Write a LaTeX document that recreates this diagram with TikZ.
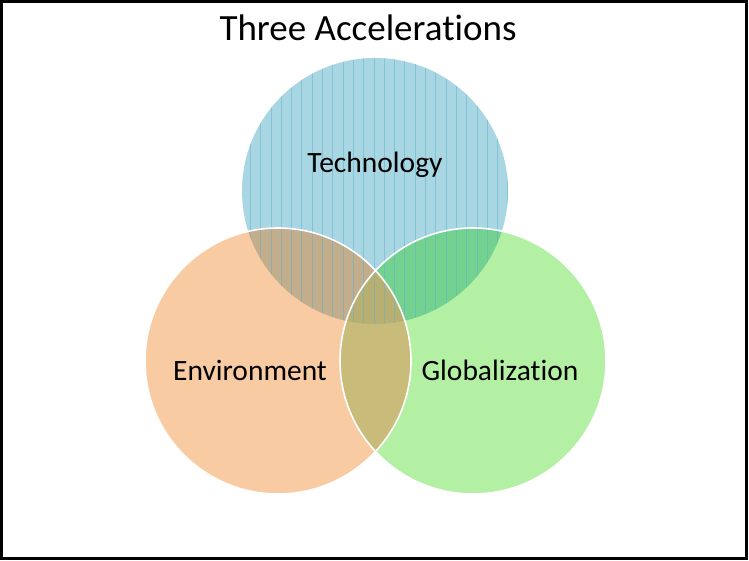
\documentclass[tikz,border=0pt]{standalone}
\usepackage{fontspec}
\setmainfont{Carlito}[Ligatures={NoCommon}]
\begin{document}
\begin{tikzpicture}[x=1pt,y=-1pt,
  label/.style={font=\fontsize{29.5}{32}\selectfont, text=black, inner sep=0pt},
  edge/.style={draw=white, line width=1.6pt}]
\definecolor{techC}{HTML}{A9D6E3}
\definecolor{envC}{HTML}{F9CBA3}
\definecolor{globC}{HTML}{B3F0A3}
\definecolor{teC}{HTML}{C2AD8D}
\definecolor{tgC}{HTML}{74D290}
\definecolor{egC}{HTML}{C9BB7A}
\definecolor{allC}{HTML}{B8B072}
\definecolor{stripeC}{HTML}{5FB2CB}
\useasboundingbox (0,0) rectangle (749,561);
\fill[white] (0,0) rectangle (749,561);
% circle centres and radius
\def\rr{133}
\coordinate (T) at (375,191);
\coordinate (E) at (278,361);
\coordinate (G) at (473,361);
% single regions
\fill[techC] (T) circle (\rr);
\fill[globC] (G) circle (\rr);
\fill[envC] (E) circle (\rr);
% pairwise overlaps
\begin{scope}
  \clip (T) circle (\rr);
  \fill[teC] (E) circle (\rr);
  \fill[tgC] (G) circle (\rr);
\end{scope}
\begin{scope}
  \clip (E) circle (\rr);
  \fill[egC] (G) circle (\rr);
  \clip (G) circle (\rr);
  \fill[allC] (T) circle (\rr);
\end{scope}
% vertical stripes of the technology circle
\begin{scope}
  \clip (T) circle (\rr);
  \foreach \x in {0,...,27} {
    \draw[stripeC, line width=0.8pt, opacity=0.5] (240+10.3*\x,50) -- (240+10.3*\x,340);
  }
\end{scope}
% white outlines
\draw[edge] (G) circle (\rr);
\draw[edge] (E) circle (\rr);
% labels
\node[label] (tech) at (375,165) {Technology};
\node[label] (env) at (250,370) {Environment};
\node[label] (glob) at (500,370) {Globalization};
\node[font=\fontsize{37}{40}\selectfont, inner sep=0pt] (title) at (368,28) {Three Accelerations};
% frame
\draw[black, line width=3pt] (1.5,1.5) rectangle (746.5,558.5);
\end{tikzpicture}
\end{document}
